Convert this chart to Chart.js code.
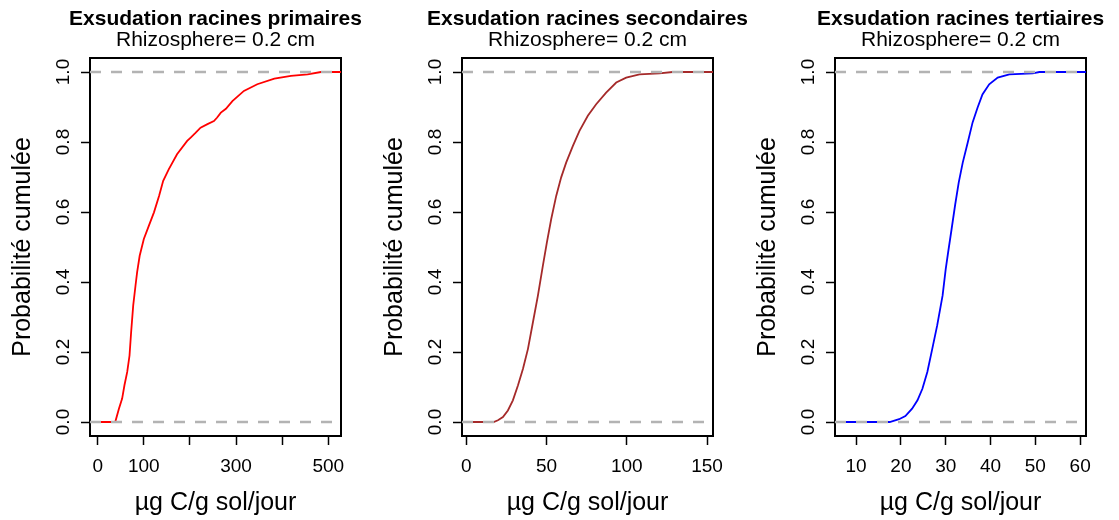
<!DOCTYPE html>
<html>
<head>
<meta charset="utf-8">
<script src="https://cdn.jsdelivr.net/npm/chart.js@4.4.0/dist/chart.umd.min.js"></script>
<style>
  html, body { margin: 0; padding: 0; background: #fff; width: 1119px; height: 520px; overflow: hidden; position: relative; }
  canvas { position: absolute; top: 0; }
</style>
</head>
<body>
<canvas id="c1" width="431" height="520" style="left:0px"></canvas>
<canvas id="c2" width="431" height="520" style="left:372px"></canvas>
<canvas id="c3" width="431" height="520" style="left:745px"></canvas>
<script>
// ---- Data (ECDF curves) ----
const titles = ['Exsudation racines primaires', 'Exsudation racines secondaires', 'Exsudation racines tertiaires'];
const subtitle = 'Rhizosphere= 0.2 cm';
const xTitle = 'µg C/g sol/jour';
const yTitle = 'Probabilité cumulée';

const primX = [38, 46, 53, 58, 64, 69, 72.5, 77, 82, 85.5, 91, 100, 111, 122, 133, 142, 154, 172, 194, 201, 212, 223, 238, 252, 259, 267, 278, 292, 317, 346, 383, 419, 455, 484];
const primY = [0, 0.038, 0.067, 0.105, 0.143, 0.19, 0.257, 0.333, 0.39, 0.428, 0.475, 0.523, 0.561, 0.599, 0.646, 0.689, 0.722, 0.765, 0.803, 0.812, 0.826, 0.841, 0.851, 0.86, 0.87, 0.884, 0.895, 0.917, 0.946, 0.965, 0.981, 0.989, 0.993, 1.0];

const secX = [17, 19.7, 22.8, 25.9, 29, 32.2, 35.3, 38.4, 41.5, 44.6, 47.7, 50.2, 52.9, 56, 59.1, 62.2, 66.4, 70.5, 75.7, 80.9, 87.1, 93.4, 99.6, 107.9, 120.3, 128.6];
const secY = [0, 0.005, 0.014, 0.033, 0.062, 0.105, 0.152, 0.209, 0.285, 0.361, 0.447, 0.513, 0.58, 0.646, 0.699, 0.741, 0.789, 0.832, 0.875, 0.908, 0.941, 0.97, 0.984, 0.993, 0.996, 1.0];

const terX = [17.5, 19.6, 21.0, 22.5, 23.7, 24.8, 25.9, 27.0, 28.1, 29.3, 30.0, 30.6, 31.3, 32.1, 32.9, 33.8, 34.9, 36.0, 37.1, 38.2, 39.7, 41.6, 44.2, 49.4, 50.9];
const terY = [0, 0.008, 0.017, 0.038, 0.062, 0.095, 0.143, 0.209, 0.276, 0.361, 0.437, 0.49, 0.55, 0.62, 0.684, 0.741, 0.798, 0.856, 0.898, 0.936, 0.965, 0.984, 0.993, 0.996, 1.0];

// axis ranges and ticks
const primRange = [-16.7, 527.5];
const secRange = [-2.7, 153.7];
const terRange = [5.3, 61.3];
const primTicks = [0, 100, 200, 300, 400, 500];
const primTickLabels = ['0', '100', '', '300', '', '500'];
const secTicks = [0, 50, 100, 150];
const secTickLabels = ['0', '50', '100', '150'];
const terTicks = [10, 20, 30, 40, 50, 60];
const terTickLabels = ['10', '20', '30', '40', '50', '60'];
const yTicks = [0, 0.2, 0.4, 0.6, 0.8, 1.0];
const yRange = [-0.04, 1.04];
const refLevels = [0, 1];

const colors = ['#FF0000', '#A52A2A', '#0000FF'];
const FONT = "'Liberation Sans', Arial, Helvetica, sans-serif";
Chart.defaults.font.family = FONT;
Chart.defaults.color = '#000';

function makePanel(id, title, xs, ys, range, ticks, tickLabels, color) {
  const curve = [{x: range[0], y: 0}].concat(xs.map((x, i) => ({x: x, y: ys[i]}))).concat([{x: range[1], y: 1}]);
  const refs = refLevels.map(l => ({
    data: [{x: range[0], y: l}, {x: range[1], y: l}],
    borderColor: '#B3B3B3', borderWidth: 2.5, borderDash: [11, 10],
    pointRadius: 0, order: 0
  }));
  const frameAxis = (pos, fitFn) => ({
    type: 'linear', position: pos,
    min: (pos === 'top') ? range[0] : yRange[0],
    max: (pos === 'top') ? range[1] : yRange[1],
    ticks: {display: false},
    grid: {display: false, drawTicks: false},
    border: {display: true, color: '#000', width: 2},
    afterFit: fitFn
  });
  new Chart(document.getElementById(id), {
    type: 'line',
    data: {
      datasets: refs.concat([{
        data: curve, borderColor: color, borderWidth: 1.8, pointRadius: 0,
        tension: 0, order: 1
      }])
    },
    options: {
      responsive: false, animation: false, devicePixelRatio: 1,
      layout: {padding: 0},
      plugins: {
        legend: {display: false},
        tooltip: {enabled: false},
        title: {display: true, text: title, color: '#000',
          font: {family: FONT, size: 21, weight: 'bold', lineHeight: 1},
          padding: {top: 8.5, bottom: 0}},
        subtitle: {display: true, text: subtitle, color: '#000',
          font: {family: FONT, size: 21, weight: 'normal', lineHeight: 1},
          padding: {top: 0, bottom: 0}}
      },
      scales: {
        x: {
          type: 'linear', position: 'bottom', min: range[0], max: range[1],
          afterBuildTicks: s => { s.ticks = ticks.map(v => ({value: v})); },
          ticks: {
            callback: (v, i) => tickLabels[i],
            autoSkip: false, maxRotation: 0, minRotation: 0,
            font: {family: FONT, size: 19, lineHeight: 1.2}, color: '#000', padding: 10
          },
          grid: {drawOnChartArea: false, drawTicks: true, tickLength: 9, tickColor: '#000', tickWidth: 1.5},
          border: {display: true, color: '#000', width: 2},
          title: {display: true, text: xTitle, color: '#000',
            font: {family: FONT, size: 25, lineHeight: 1}, padding: {top: 0, bottom: 4.5}},
          afterFit: s => { s.height = 84; }
        },
        x2: frameAxis('top', s => { s.height = 7.5; }),
        y: {
          type: 'linear', position: 'left', min: yRange[0], max: yRange[1],
          afterBuildTicks: s => { s.ticks = yTicks.map(v => ({value: v})); },
          ticks: {
            callback: v => Number(v).toFixed(1),
            autoSkip: false, minRotation: 90, maxRotation: 90, crossAlign: 'center',
            font: {family: FONT, size: 19, lineHeight: 1.2}, color: '#000', padding: 4
          },
          grid: {drawOnChartArea: false, drawTicks: true, tickLength: 9, tickColor: '#000', tickWidth: 1.5},
          border: {display: true, color: '#000', width: 2},
          title: {display: true, text: yTitle, color: '#000',
            font: {family: FONT, size: 25, lineHeight: 1}, padding: {top: 10.5, bottom: 0}},
          afterFit: s => { s.width = 90; }
        },
        y2: frameAxis('right', s => { s.width = 90; })
      }
    }
  });
}

makePanel('c1', titles[0], primX, primY, primRange, primTicks, primTickLabels, colors[0]);
makePanel('c2', titles[1], secX, secY, secRange, secTicks, secTickLabels, colors[1]);
makePanel('c3', titles[2], terX, terY, terRange, terTicks, terTickLabels, colors[2]);
</script>
</body>
</html>
